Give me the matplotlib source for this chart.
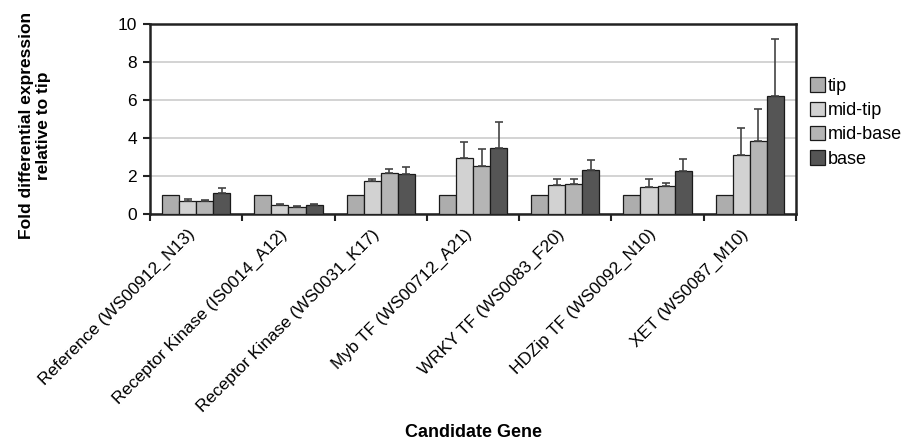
import matplotlib
matplotlib.use("Agg")
import matplotlib.pyplot as plt
import numpy as np

plt.rcParams['font.family'] = ['Liberation Sans', 'DejaVu Sans']

genes = ["Reference (WS00912_N13)", "Receptor Kinase (IS0014_A12)",
         "Receptor Kinase (WS0031_K17)", "Myb TF (WS00712_A21)",
         "WRKY TF (WS0083_F20)", "HDZip TF (WS0092_N10)", "XET (WS0087_M10)"]
series = ["tip", "mid-tip", "mid-base", "base"]

tip = [1.0, 1.0, 1.0, 1.0, 1.0, 1.0, 1.0]
mid_tip = [0.68, 0.49, 1.75, 2.96, 1.51, 1.40, 3.12]
mid_base = [0.68, 0.39, 2.14, 2.54, 1.58, 1.49, 3.86]
base = [1.09, 0.46, 2.09, 3.49, 2.32, 2.25, 6.21]

tip_err = [0, 0, 0, 0, 0, 0, 0]
mid_tip_err = [0.09, 0.05, 0.11, 0.81, 0.33, 0.44, 1.42]
mid_base_err = [0.07, 0.05, 0.25, 0.88, 0.24, 0.16, 1.65]
base_err = [0.26, 0.08, 0.38, 1.37, 0.51, 0.63, 3.02]

values = [tip, mid_tip, mid_base, base]
errors = [tip_err, mid_tip_err, mid_base_err, base_err]
colors = ["#adadad", "#d2d2d2", "#b5b5b5", "#555555"]

fig = plt.figure(figsize=(9.04, 4.41), dpi=100)
ax = fig.add_axes([0.166, 0.5147, 0.7145, 0.4309])

x = np.arange(len(genes))
w = 0.185
for i, (vals, errs, c, name) in enumerate(zip(values, errors, colors, series)):
    pos = x + (i - 1.5) * w
    ax.bar(pos, vals, width=w, color=c, edgecolor="#1a1a1a", linewidth=0.9,
           label=name, zorder=3)
    e = np.array(errs)
    mask = e > 0
    ax.errorbar(pos[mask], np.array(vals)[mask], yerr=[np.zeros(mask.sum()), e[mask]],
                fmt="none", ecolor="#444444", elinewidth=1.2, capsize=3, capthick=1.2,
                zorder=4)

ax.set_xlim(-0.5, len(genes) - 0.5)
ax.set_ylim(0, 10)
ax.set_yticks([0, 2, 4, 6, 8, 10])
ax.yaxis.grid(True, color="#cccccc", linewidth=1.2, zorder=0)
ax.set_axisbelow(True)

ax.set_xticks(np.arange(len(genes) + 1) - 0.5)
ax.set_xticklabels([])
ax.set_xticks(x - 0.04, minor=True)
ax.set_xticklabels(genes, minor=True, rotation=45, ha="right", va="center",
                   rotation_mode="anchor", fontsize=12.4)
ax.tick_params(axis="x", which="minor", length=0, pad=13)
ax.tick_params(axis="x", which="major", length=5, width=1.5, color="#222222")
ax.tick_params(axis="y", length=5, width=1.5, color="#222222", labelsize=12.5, pad=4.5)

for s in ax.spines.values():
    s.set_linewidth(1.8)
    s.set_color("#222222")

ax.set_ylabel("Fold differential expression\nrelative to tip", fontsize=12.5,
              fontweight="bold")
ax.yaxis.set_label_coords(-0.153, 0.465)
ax.set_xlabel("Candidate Gene", fontsize=13, fontweight="bold")
ax.xaxis.set_label_coords(0.5, -1.105)

leg = ax.legend(loc="upper left", bbox_to_anchor=(1.01, 0.757), frameon=False,
                fontsize=13, handlelength=0.85, handleheight=0.85, handletextpad=0.15,
                labelspacing=0.38, borderaxespad=0)

fig.savefig("out.png", dpi=100)
